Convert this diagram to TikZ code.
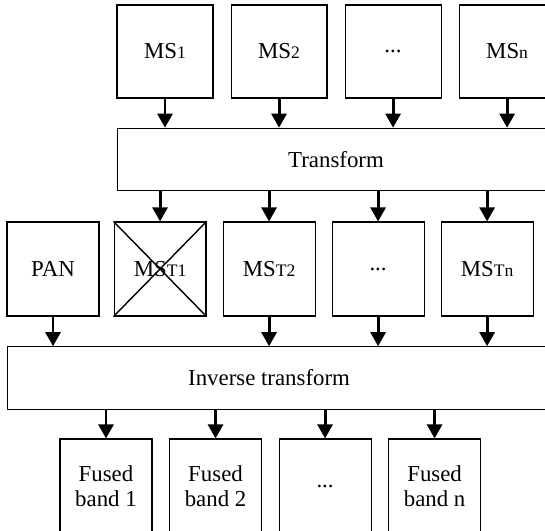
\documentclass[tikz,border=0pt]{standalone}
\usepackage{fontspec}
\setmainfont{Liberation Serif}
\usetikzlibrary{arrows.meta,positioning}

\newcommand{\bandno}[1]{{\fontsize{10}{12}\selectfont #1}}

\tikzset{
  blk/.style={draw, line width=0.6pt, inner sep=0pt, align=center,
    minimum width=1.84cm, minimum height=1.88cm,
    font=\fontsize{13}{14.5}\selectfont},
  topblk/.style={blk, minimum width=1.92cm, minimum height=1.86cm},
  bar/.style={draw, line width=0.6pt, inner sep=0pt,
    minimum height=1.25cm, font=\fontsize{13}{14.5}\selectfont},
  flow/.style={line width=1.7pt, -{Triangle[width=8.5pt,length=8pt]}}
}

\begin{document}
\begin{tikzpicture}[x=0.02cm, y=-0.02cm]
  \useasboundingbox (0,0) rectangle (545,531);
  \clip (0,0) rectangle (545,531);

  % multispectral bands
  \node[topblk] (ms1) at (165,51.5) {MS\bandno{1}};
  \node[topblk, right=0.34cm of ms1] (ms2) {MS\bandno{2}};
  \node[topblk, right=0.34cm of ms2] (msdots) {...};
  \node[topblk, right=0.34cm of msdots] (msn) {MS\bandno{n}};

  \node[bar, minimum width=8.76cm] (trans) at (336,159.5) {Transform};

  % transformed components and the PAN image
  \node[blk] (pan) at (53,269) {PAN};
  \node[blk, right=0.28cm of pan] (mst1) {MS\bandno{T1}};
  \node[blk, right=0.32cm of mst1] (mst2) {MS\bandno{T2}};
  \node[blk, right=0.32cm of mst2] (mstdots) {...};
  \node[blk, right=0.32cm of mstdots] (mstn) {MS\bandno{Tn}};
  \draw[line width=0.8pt] (mst1.north west) -- (mst1.south east)
                          (mst1.north east) -- (mst1.south west);

  \node[bar, minimum width=10.96cm] (inv) at (281,378) {};
  \node[font=\fontsize{13}{14.5}\selectfont] (invtext) at (inv.center -| mst2) {Inverse transform};

  % fused output bands
  \node[blk] (fb1) at (106,486) {Fused\\band 1};
  \node[blk, right=0.33cm of fb1] (fb2) {Fused\\band 2};
  \node[blk, right=0.33cm of fb2] (fbdots) {...};
  \node[blk, right=0.33cm of fbdots] (fbn) {Fused\\band n};

  \foreach \n in {ms1,ms2,msdots,msn}
    \draw[flow] (\n.south) -- (\n.south |- trans.north);
  \foreach \n in {mst1,mst2,mstdots,mstn}
    \draw[flow] (\n.north |- trans.south) -- (\n.north);
  \foreach \n in {pan,mst2,mstdots,mstn}
    \draw[flow] (\n.south) -- (\n.south |- inv.north);
  \foreach \n in {fb1,fb2,fbdots,fbn}
    \draw[flow] (\n.north |- inv.south) -- (\n.north);
\end{tikzpicture}
\end{document}
